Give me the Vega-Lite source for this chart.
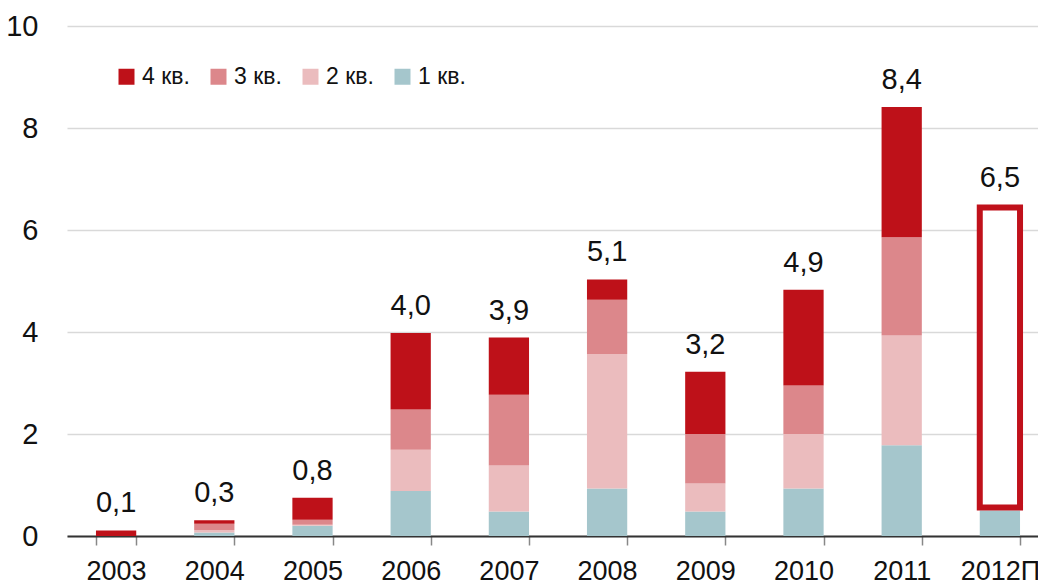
{
  "$schema": "https://vega.github.io/schema/vega-lite/v6.json",
  "width": 971,
  "height": 510,
  "autosize": {"type": "none"},
  "padding": {"left": 67, "top": 26, "right": 0, "bottom": 52},
  "background": "white",
  "config": {
    "font": "'Liberation Sans', Arial, sans-serif",
    "view": {"stroke": null}
  },
  "datasets": {
    "quarters": [
      {"year": "2003", "q": "4 кв.", "qn": 4, "value": 0.11},
      {"year": "2004", "q": "1 кв.", "qn": 1, "value": 0.07},
      {"year": "2004", "q": "2 кв.", "qn": 2, "value": 0.05},
      {"year": "2004", "q": "3 кв.", "qn": 3, "value": 0.12},
      {"year": "2004", "q": "4 кв.", "qn": 4, "value": 0.07},
      {"year": "2005", "q": "1 кв.", "qn": 1, "value": 0.2},
      {"year": "2005", "q": "2 кв.", "qn": 2, "value": 0.02},
      {"year": "2005", "q": "3 кв.", "qn": 3, "value": 0.1},
      {"year": "2005", "q": "4 кв.", "qn": 4, "value": 0.43},
      {"year": "2006", "q": "1 кв.", "qn": 1, "value": 0.88},
      {"year": "2006", "q": "2 кв.", "qn": 2, "value": 0.81},
      {"year": "2006", "q": "3 кв.", "qn": 3, "value": 0.79},
      {"year": "2006", "q": "4 кв.", "qn": 4, "value": 1.5},
      {"year": "2007", "q": "1 кв.", "qn": 1, "value": 0.48},
      {"year": "2007", "q": "2 кв.", "qn": 2, "value": 0.9},
      {"year": "2007", "q": "3 кв.", "qn": 3, "value": 1.39},
      {"year": "2007", "q": "4 кв.", "qn": 4, "value": 1.12},
      {"year": "2008", "q": "1 кв.", "qn": 1, "value": 0.93},
      {"year": "2008", "q": "2 кв.", "qn": 2, "value": 2.64},
      {"year": "2008", "q": "3 кв.", "qn": 3, "value": 1.06},
      {"year": "2008", "q": "4 кв.", "qn": 4, "value": 0.4},
      {"year": "2009", "q": "1 кв.", "qn": 1, "value": 0.48},
      {"year": "2009", "q": "2 кв.", "qn": 2, "value": 0.55},
      {"year": "2009", "q": "3 кв.", "qn": 3, "value": 0.97},
      {"year": "2009", "q": "4 кв.", "qn": 4, "value": 1.22},
      {"year": "2010", "q": "1 кв.", "qn": 1, "value": 0.93},
      {"year": "2010", "q": "2 кв.", "qn": 2, "value": 1.07},
      {"year": "2010", "q": "3 кв.", "qn": 3, "value": 0.95},
      {"year": "2010", "q": "4 кв.", "qn": 4, "value": 1.88},
      {"year": "2011", "q": "1 кв.", "qn": 1, "value": 1.78},
      {"year": "2011", "q": "2 кв.", "qn": 2, "value": 2.15},
      {"year": "2011", "q": "3 кв.", "qn": 3, "value": 1.93},
      {"year": "2011", "q": "4 кв.", "qn": 4, "value": 2.55},
      {"year": "2012П", "q": "1 кв.", "qn": 1, "value": 0.5}
    ],
    "forecast": [
      {"year": "2012П", "from": 0.56, "to": 6.44}
    ],
    "totals": [
      {"year": "2003", "total": 0.11, "label": "0,1"},
      {"year": "2004", "total": 0.31, "label": "0,3"},
      {"year": "2005", "total": 0.75, "label": "0,8"},
      {"year": "2006", "total": 3.98, "label": "4,0"},
      {"year": "2007", "total": 3.89, "label": "3,9"},
      {"year": "2008", "total": 5.03, "label": "5,1"},
      {"year": "2009", "total": 3.22, "label": "3,2"},
      {"year": "2010", "total": 4.83, "label": "4,9"},
      {"year": "2011", "total": 8.41, "label": "8,4"},
      {"year": "2012П", "total": 6.5, "label": "6,5"}
    ]
  },
  "encoding": {
    "x": {
      "field": "year",
      "type": "nominal",
      "scale": {
        "domain": ["2003", "2004", "2005", "2006", "2007", "2008", "2009", "2010", "2011", "2012П"],
        "range": [0, 982],
        "paddingInner": 0.59,
        "paddingOuter": 0.295
      },
      "axis": {
        "title": null,
        "labelAngle": 0,
        "labelFontSize": 27,
        "labelColor": "#111111",
        "labelPadding": 13,
        "labelBaseline": "top",
        "domainColor": "#333333",
        "domainWidth": 2,
        "tickColor": "#888888",
        "tickWidth": 1.5,
        "tickSize": 9,
        "tickBand": "extent",
        "grid": false
      }
    }
  },
  "layer": [
    {
      "data": {"name": "quarters"},
      "mark": {"type": "bar"},
      "encoding": {
        "y": {
          "field": "value",
          "type": "quantitative",
          "aggregate": "sum",
          "stack": "zero",
          "scale": {"domain": [0, 10], "nice": false},
          "axis": {
            "title": null,
            "values": [0, 2, 4, 6, 8, 10],
            "labelFontSize": 29,
            "labelColor": "#111111",
            "labelPadding": 29,
            "ticks": false,
            "domain": false,
            "grid": true,
            "gridColor": "#D9D9D9",
            "gridWidth": 1.5
          }
        },
        "color": {
          "field": "q",
          "type": "nominal",
          "scale": {
            "domain": ["4 кв.", "3 кв.", "2 кв.", "1 кв."],
            "range": ["#BE1119", "#DC878B", "#EBBCBE", "#A5C6CC"]
          },
          "legend": {
            "title": null,
            "orient": "none",
            "direction": "horizontal",
            "legendX": 48,
            "legendY": 39,
            "padding": 0,
            "symbolType": "square",
            "symbolSize": 256,
            "symbolStrokeWidth": 0,
            "labelFontSize": 23,
            "labelColor": "#111111",
            "labelOffset": 4,
            "columnPadding": 17
          }
        },
        "order": {"field": "qn", "type": "quantitative", "sort": "ascending"}
      }
    },
    {
      "data": {"name": "forecast"},
      "mark": {"type": "bar", "fill": "white", "stroke": "#C0111B", "strokeWidth": 6},
      "encoding": {
        "y": {"field": "from", "type": "quantitative"},
        "y2": {"field": "to"}
      }
    },
    {
      "data": {"name": "totals"},
      "mark": {"type": "text", "fontSize": 29, "baseline": "alphabetic", "dy": -18, "color": "#111111"},
      "encoding": {
        "y": {"field": "total", "type": "quantitative"},
        "text": {"field": "label"}
      }
    }
  ]
}
